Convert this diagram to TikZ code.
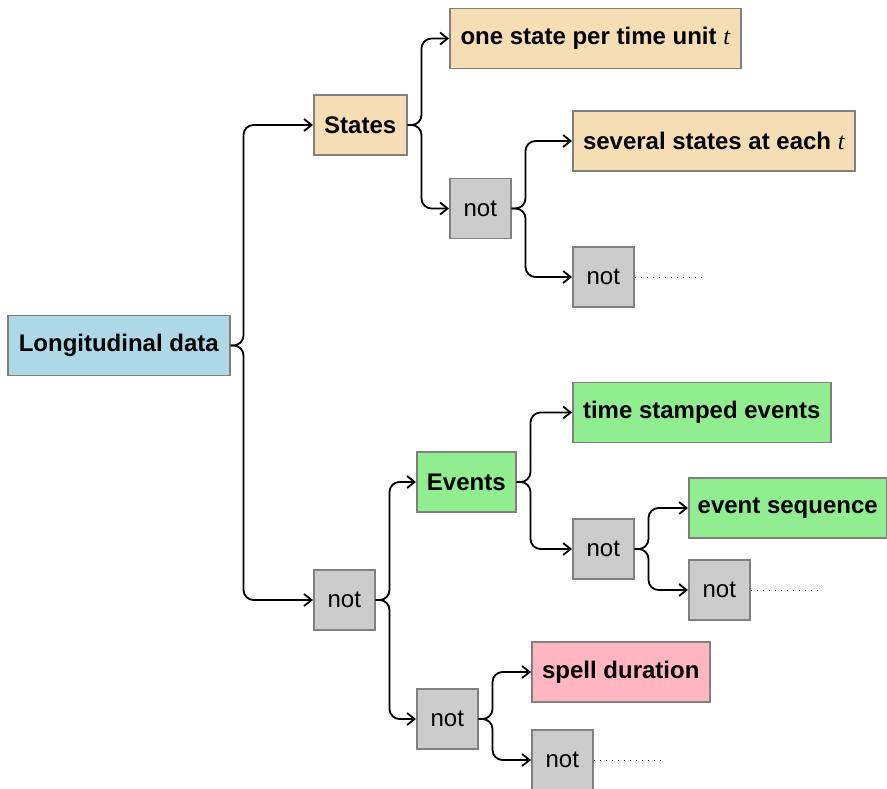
\documentclass[tikz,border=0pt]{standalone}
\usepackage{fontspec}
\setmainfont{Liberation Sans}
\newfontfamily\serifit{Liberation Serif}
\usetikzlibrary{arrows.meta}
\definecolor{cblue}{HTML}{ADD8E6}
\definecolor{cwheat}{HTML}{F5DEB3}
\definecolor{cgray}{HTML}{CCCCCC}
\definecolor{cgreen}{HTML}{90EE90}
\definecolor{cpink}{HTML}{FFB6C1}
\definecolor{cborder}{HTML}{808080}
\newcommand{\tvar}{{\serifit\mdseries\itshape t}}
\begin{document}
\begin{tikzpicture}[x=1pt,y=-1pt,
  box/.style={draw=cborder, line width=1.5pt, minimum height=60pt, anchor=west, inner sep=0pt, font=\fontsize{24}{28}\selectfont},
  bbox/.style={box, font=\fontsize{24}{28}\selectfont\bfseries},
  notbox/.style={box, fill=cgray, minimum width=61pt},
  conn/.style={line width=1.8pt, rounded corners=10pt, -{Straight Barb[length=7.5pt,width=12pt,line width=1.8pt]}},
  trail/.style={line width=0.8pt, dash pattern=on 1pt off 5pt}
]
\useasboundingbox (0,0) rectangle (887,789);

\node[bbox, fill=cblue, minimum width=222pt] (long) at (7,345.5) {Longitudinal data};
\node[bbox, fill=cwheat, minimum width=93pt] (states) at (313,125) {States};
\node[bbox, fill=cwheat, minimum width=291pt] (one) at (449,38.5) {one state per time unit \tvar};
\node[notbox] (n1) at (449,208.5) {not};
\node[bbox, fill=cwheat, minimum width=282pt] (several) at (572,141) {several states at each \tvar};
\node[notbox] (n2) at (572,277) {not};
\node[notbox] (n3) at (313,600) {not};
\node[bbox, fill=cgreen, minimum width=99pt] (events) at (416,482) {Events};
\node[bbox, fill=cgreen, minimum width=258pt] (stamped) at (572,412.5) {time stamped events};
\node[notbox] (n4) at (572,549) {not};
\node[bbox, fill=cgreen, minimum width=198pt] (seq) at (688,508) {event sequence};
\node[notbox] (n5) at (688,590) {not};
\node[notbox] (n6) at (416,719) {not};
\node[bbox, fill=cpink, minimum width=178pt] (spell) at (531,672) {spell duration};
\node[notbox] (n7) at (531,760) {not};

\coordinate (e2) at ([xshift=67pt]n2.east);
\coordinate (e5) at ([xshift=67pt]n5.east);
\coordinate (e7) at ([xshift=67pt]n7.east);

\draw[conn] (long.east) -- ++(13,0) |- (states.west);
\draw[conn] (long.east) -- ++(13,0) |- (n3.west);
\draw[conn] (states.east) -- ++(14,0) |- (one.west);
\draw[conn] (states.east) -- ++(14,0) |- (n1.west);
\draw[conn] (n1.east) -- ++(14,0) |- (several.west);
\draw[conn] (n1.east) -- ++(14,0) |- (n2.west);
\draw[conn] (n3.east) -- ++(14,0) |- (events.west);
\draw[conn] (n3.east) -- ++(14,0) |- (n6.west);
\draw[conn] (events.east) -- ++(14,0) |- (stamped.west);
\draw[conn] (events.east) -- ++(14,0) |- (n4.west);
\draw[conn] (n4.east) -- ++(14,0) |- (seq.west);
\draw[conn] (n4.east) -- ++(14,0) |- (n5.west);
\draw[conn] (n6.east) -- ++(14,0) |- (spell.west);
\draw[conn] (n6.east) -- ++(14,0) |- (n7.west);

\draw[trail] (n2.east) -- (e2);
\draw[trail] (n5.east) -- (e5);
\draw[trail] (n7.east) -- (e7);
\end{tikzpicture}
\end{document}
